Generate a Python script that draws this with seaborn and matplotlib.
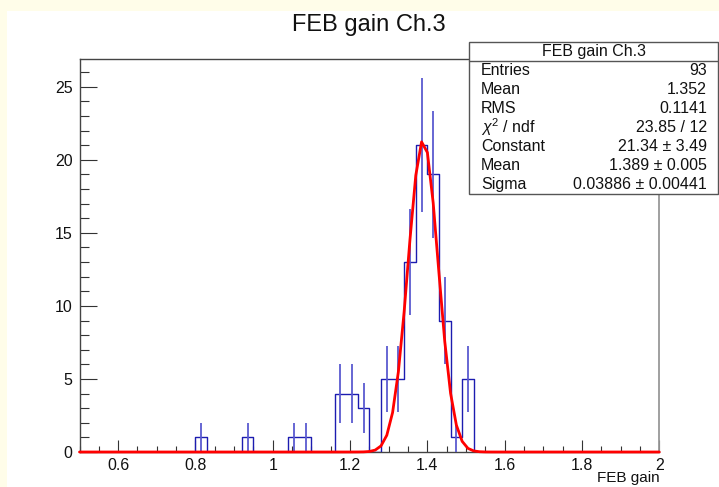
import numpy as np
import pandas as pd
import matplotlib
matplotlib.use("Agg")
import matplotlib.pyplot as plt
from matplotlib.patches import Rectangle
from matplotlib.lines import Line2D
from matplotlib.ticker import MultipleLocator, FuncFormatter
import seaborn as sns

# ---------------- data ----------------
title = "FEB gain Ch.3"
x_label = "FEB gain"
x_min, x_max, n_bins = 0.5, 2.0, 50
counts = [0, 0, 0, 0, 0, 0, 0, 0, 0, 0,
          1, 0, 0, 0, 1, 0, 0, 0, 1, 1,
          0, 0, 4, 4, 3, 0, 5, 5, 13, 21,
          19, 9, 1, 5, 0, 0, 0, 0, 0, 0,
          0, 0, 0, 0, 0, 0, 0, 0, 0, 0]
fit_constant = 21.34
fit_mean = 1.389
fit_sigma = 0.03886
stats_labels = ["Entries", "Mean", "RMS", r"$\chi^{2}$ / ndf", "Constant", "Mean", "Sigma"]
stats_values = ["93", "1.352", "0.1141", "23.85 / 12", "21.34 \u00b1 3.49",
                "1.389 \u00b1 0.005", "0.03886 \u00b1 0.00441"]
x_major_ticks = [0.6, 0.8, 1.0, 1.2, 1.4, 1.6, 1.8, 2.0]
y_major_ticks = [0, 5, 10, 15, 20, 25]

# ---------------- style ----------------
sns.set_style("white")
plt.rcParams["font.family"] = ["Liberation Sans", "DejaVu Sans"]
plt.rcParams["mathtext.fontset"] = "custom"
plt.rcParams["mathtext.rm"] = "Liberation Sans"
plt.rcParams["mathtext.it"] = "Liberation Sans:italic"

W, H = 719, 487
fig = plt.figure(figsize=(W / 100, H / 100), dpi=100, facecolor="white")

# pale yellow canvas border strips
fig.patches.append(Rectangle((0, 1 - 11 / H), 1, 11 / H, transform=fig.transFigure,
                             facecolor="#fffde9", edgecolor="none", zorder=0))
fig.patches.append(Rectangle((0, 0), 7 / W, 1, transform=fig.transFigure,
                             facecolor="#fffde9", edgecolor="none", zorder=0))

left, right, top, bottom = 79.5, 659.3, 59, 452
ax = fig.add_axes([left / W, 1 - bottom / H, (right - left) / W, (bottom - top) / H])
ax.set_facecolor("white")

edges = np.linspace(x_min, x_max, n_bins + 1)
centers = 0.5 * (edges[:-1] + edges[1:])
df = pd.DataFrame({"x": centers, "n": counts})

sns.histplot(data=df, x="x", weights="n", bins=n_bins, binrange=(x_min, x_max),
             element="step", fill=False, color="#1c1cb0", linewidth=1.0, ax=ax, zorder=3)

# error bars sqrt(N)
nz = df[df["n"] > 0]
err = np.sqrt(nz["n"].values)
ax.vlines(nz["x"].values, nz["n"].values - err, nz["n"].values + err,
          color="#5a5ad0", linewidth=1.3, zorder=4)

# gaussian fit curve (ROOT draws with 100 points)
xf = np.linspace(x_min, x_max, 101)
yf = fit_constant * np.exp(-0.5 * ((xf - fit_mean) / fit_sigma) ** 2)
sns.lineplot(x=xf, y=yf, color="#ff0000", linewidth=2.0, estimator=None, ax=ax,
             zorder=5, clip_on=False)

ax.set_xlim(x_min, x_max)
ax.set_ylim(0, 26.9)
ax.set_xlabel("")
ax.set_ylabel("")

ax.xaxis.set_major_locator(matplotlib.ticker.FixedLocator(x_major_ticks))
ax.xaxis.set_minor_locator(MultipleLocator(0.05))
ax.yaxis.set_major_locator(matplotlib.ticker.FixedLocator(y_major_ticks))
ax.yaxis.set_minor_locator(MultipleLocator(1))
ax.xaxis.set_major_formatter(FuncFormatter(lambda v, p: f"{v:g}"))
ax.yaxis.set_major_formatter(FuncFormatter(lambda v, p: f"{v:g}"))

ax.tick_params(axis="x", which="major", direction="in", length=8.5, width=0.8,
               color="#333333", labelsize=11.5, pad=4, bottom=True, top=False,
               labelcolor="#111111")
ax.tick_params(axis="x", which="minor", direction="in", length=4.2, width=0.8,
               color="#333333", bottom=True, top=False)
ax.tick_params(axis="y", which="major", direction="in", length=12.5, width=0.8,
               color="#333333", labelsize=11.5, pad=5, left=True, right=False,
               labelcolor="#111111")
ax.tick_params(axis="y", which="minor", direction="in", length=6.3, width=0.8,
               color="#333333", left=True, right=False)

for s in ["left", "bottom", "top"]:
    ax.spines[s].set_color("#444444")
    ax.spines[s].set_linewidth(1.0)
ax.spines["right"].set_color("#999999")
ax.spines["right"].set_linewidth(1.3)

# title and x label
fig.text(369 / W, 1 - 25 / H, title, ha="center", va="center", fontsize=17, color="#111111")
fig.text(659.5 / W, 1 - 478 / H, x_label, ha="right", va="center", fontsize=11, color="#111111")

# stats box
bx0, bx1, by0, by1 = 469, 718, 42, 194
fig.patches.append(Rectangle((bx0 / W, 1 - by1 / H), (bx1 - bx0) / W, (by1 - by0) / H,
                             transform=fig.transFigure, facecolor="white",
                             edgecolor="#555555", linewidth=1.0, zorder=10))
sep_y = 61
fig.lines.append(Line2D([bx0 / W, bx1 / W], [1 - sep_y / H, 1 - sep_y / H],
                        transform=fig.transFigure, color="#555555", linewidth=1.0, zorder=11))
fig.text((bx0 + bx1) / 2 / W, 1 - 51.5 / H, title, ha="center", va="center",
         fontsize=11.5, color="#111111", zorder=12)
row_h = (by1 - sep_y) / len(stats_labels)
for i, (lab, val) in enumerate(zip(stats_labels, stats_values)):
    yc = sep_y + row_h * (i + 0.5)
    fig.text(481 / W, 1 - yc / H, lab, ha="left", va="center", fontsize=11.5,
             color="#111111", zorder=12)
    fig.text(707 / W, 1 - yc / H, val, ha="right", va="center", fontsize=11.5,
             color="#111111", zorder=12)

fig.savefig("out.png", dpi=100, facecolor="white")
